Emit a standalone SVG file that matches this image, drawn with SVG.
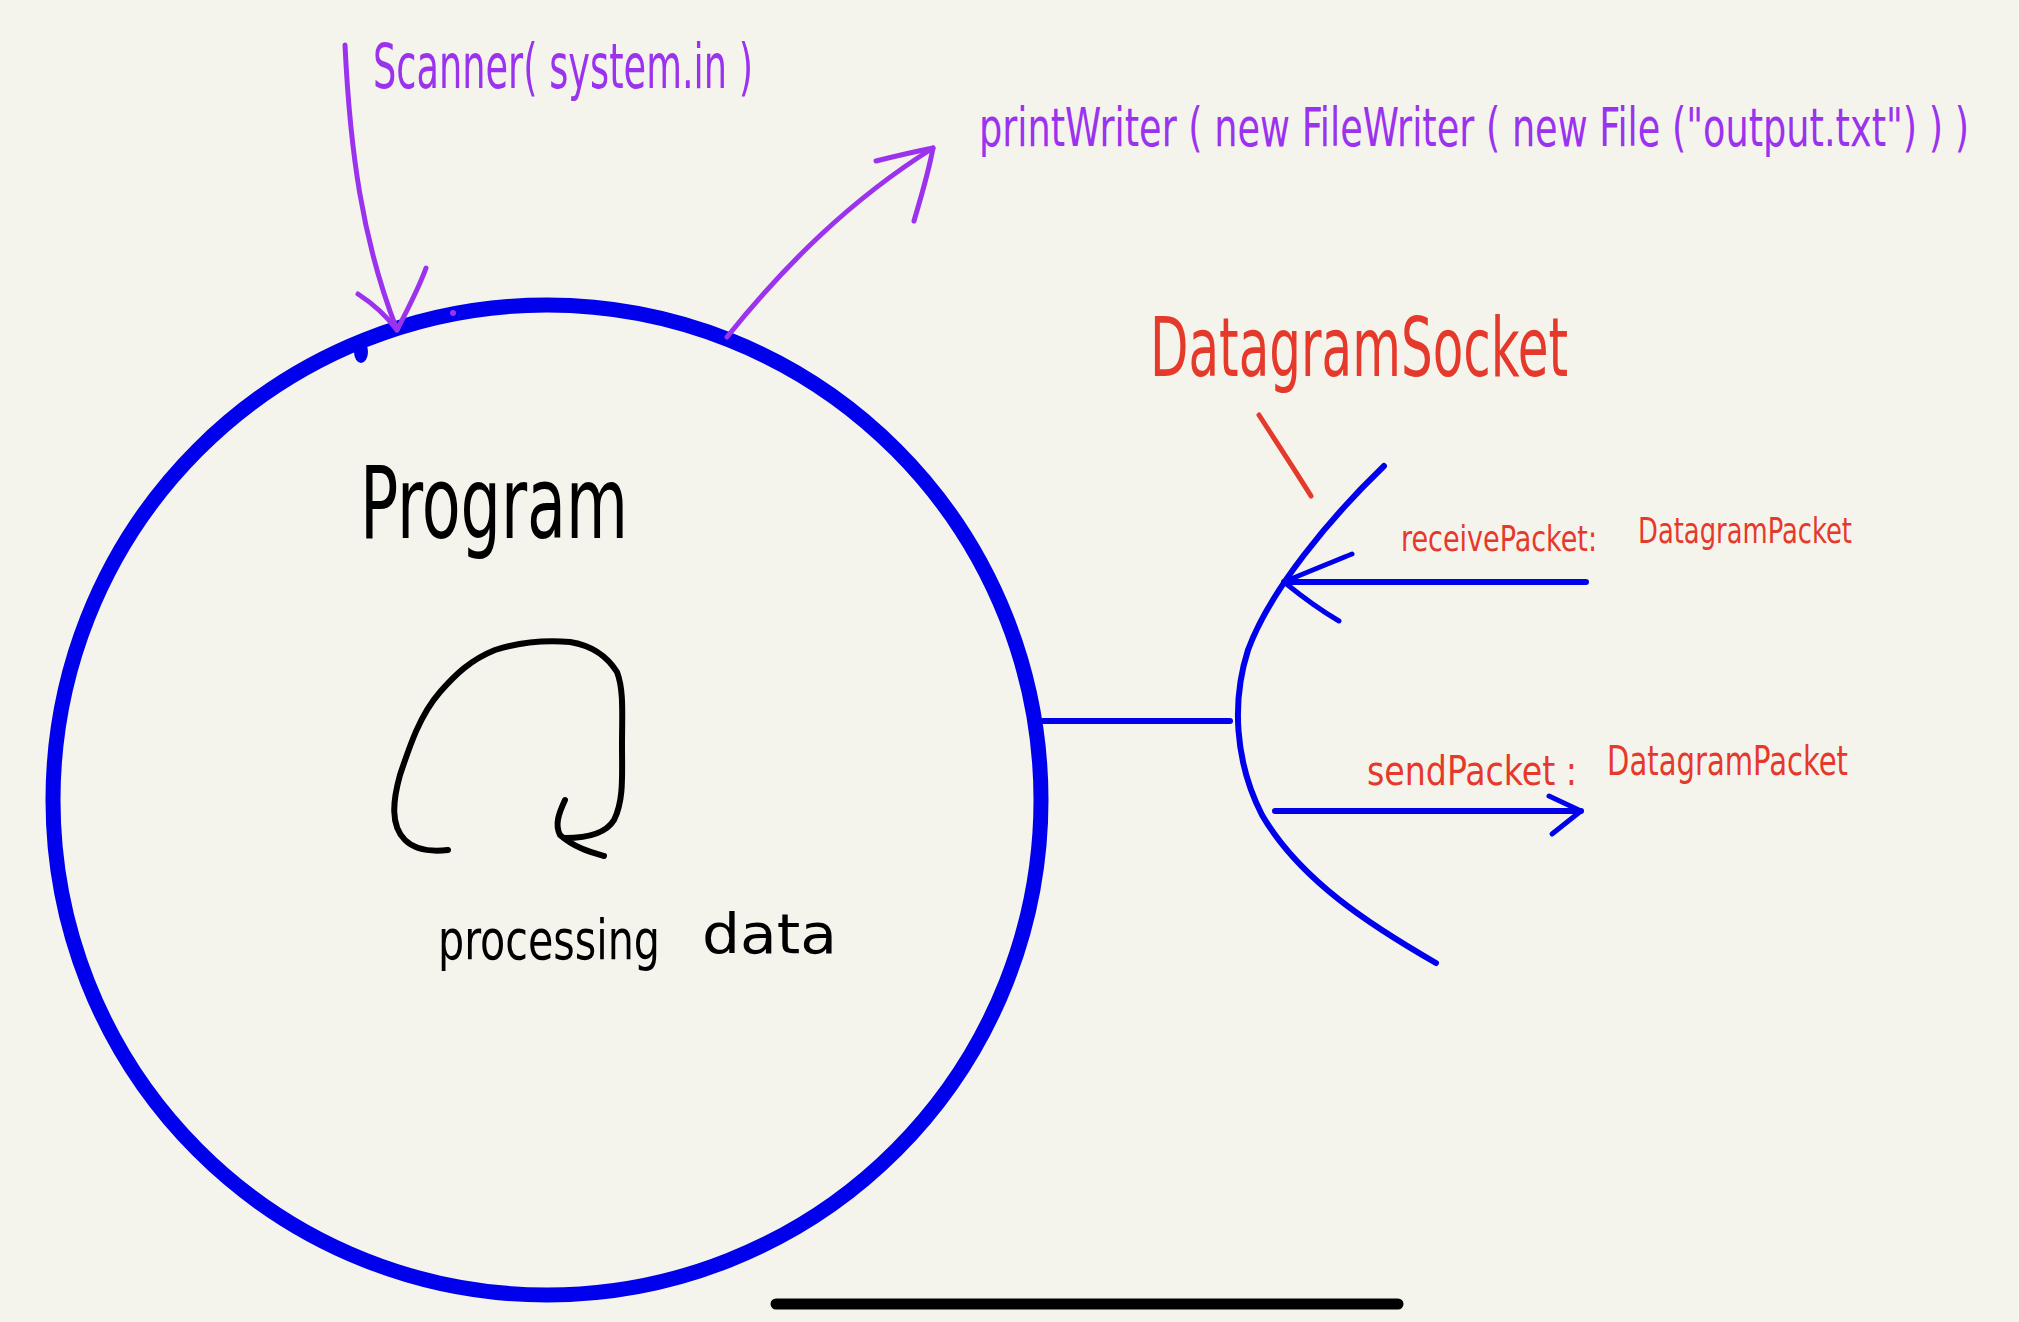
<svg xmlns="http://www.w3.org/2000/svg" width="2019" height="1322" viewBox="0 0 2019 1322">
<style>
.bg{fill:#f5f4ec}
.blue{fill:none;stroke:#0000ec;stroke-linecap:round;stroke-linejoin:round}
.purple{fill:none;stroke:#9b33ee;stroke-width:5;stroke-linecap:round;stroke-linejoin:round}
.red{fill:none;stroke:#e5392b;stroke-width:5;stroke-linecap:round}
.ink{fill:none;stroke:#000;stroke-width:6;stroke-linecap:round;stroke-linejoin:round}
.hand{font-family:"DejaVu Sans Condensed","Liberation Sans",sans-serif;}
.tp{fill:#9b33ee}
.tr{fill:#e5392b}
.tb{fill:#000}
</style>
<rect class="bg" x="0" y="0" width="2019" height="1322"/>

<g id="program">
  <ellipse class="blue" cx="547" cy="800" rx="494" ry="495" stroke-width="15"/>
  <ellipse cx="361" cy="352" rx="7" ry="11" fill="#0000ec"/>
  <circle cx="453" cy="313" r="3" fill="#9b33ee"/>
  <text class="hand tb" x="360" y="538" font-size="100" textLength="268" lengthAdjust="spacingAndGlyphs">Program</text>
  <path class="ink" d="M448,850 C430,852 415,850 405,840 C390,825 393,800 400,775 C410,745 420,715 440,692 C455,675 470,660 495,650 C520,642 545,640 570,642 C595,646 608,658 617,672 C624,690 622,715 622,745 C622,775 624,800 614,820 C605,835 585,838 565,838"/>
  <path class="ink" d="M565,800 C558,815 555,825 560,835 C575,848 590,852 604,856"/>
  <text class="hand tb" x="438" y="959" font-size="56" textLength="222" lengthAdjust="spacingAndGlyphs">processing</text>
  <text class="hand tb" x="702" y="953" font-size="56" textLength="135" lengthAdjust="spacingAndGlyphs">data</text>
</g>

<g id="scanner">
  <text class="hand tp" x="373" y="88" font-size="62" textLength="380" lengthAdjust="spacingAndGlyphs">Scanner( system.in )</text>
</g>

<g id="printwriter">
  <text class="hand tp" transform="translate(979,146) scale(0.66,1)" x="0" y="0" font-size="54" textLength="1500" lengthAdjust="spacingAndGlyphs">printWriter ( new FileWriter ( new File ("output.txt") ) )</text>
</g>

<g id="datagramsocket">
  <text class="hand tr" x="1150" y="376" font-size="82" textLength="418" lengthAdjust="spacingAndGlyphs">DatagramSocket</text>
  <path class="blue" stroke-width="6" d="M1384,466 C1330,518 1270,590 1248,650 C1232,700 1234,760 1262,815 C1300,880 1370,925 1436,963"/>
</g>

<g id="receive-label">
  <text class="hand tr" x="1401" y="551" font-size="36" textLength="196" lengthAdjust="spacingAndGlyphs">receivePacket:</text>
  <text class="hand tr" x="1638" y="543" font-size="36" textLength="214" lengthAdjust="spacingAndGlyphs">DatagramPacket</text>
</g>

<g id="send-label">
  <text class="hand tr" x="1367" y="785" font-size="40" textLength="210" lengthAdjust="spacingAndGlyphs">sendPacket :</text>
  <text class="hand tr" x="1607" y="775" font-size="40" textLength="241" lengthAdjust="spacingAndGlyphs">DatagramPacket</text>
</g>

<g id="connectors">
  <path class="purple" d="M345,45 C350,150 362,240 397,330"/>
  <path class="purple" d="M358,294 C375,305 388,318 397,330 C410,305 420,285 426,268"/>
  <path class="purple" d="M727,337 C785,265 850,200 933,148"/>
  <path class="purple" d="M876,161 C900,155 918,151 933,148 C928,175 920,200 914,221"/>
  <path class="red" d="M1259,415 C1275,440 1295,470 1311,496"/>
  <path class="blue" stroke-width="6" d="M1043,721 L1230,721"/>
  <path class="blue" stroke-width="6" d="M1586,582 L1284,582"/>
  <path class="blue" stroke-width="5" d="M1352,554 C1325,565 1300,575 1284,582 C1300,595 1320,610 1339,621"/>
  <path class="blue" stroke-width="6" d="M1275,811 L1581,811"/>
  <path class="blue" stroke-width="5" d="M1549,796 L1581,811 L1552,834"/>
</g>

<line x1="776" y1="1304" x2="1398" y2="1304" stroke="#000" stroke-width="11" stroke-linecap="round"/>
</svg>
